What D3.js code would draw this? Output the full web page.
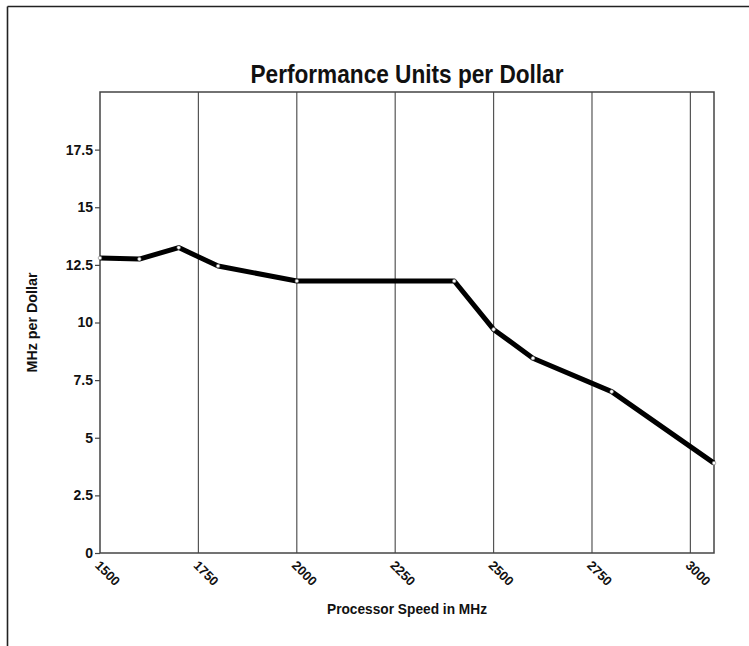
<!DOCTYPE html>
<html>
<head>
<meta charset="utf-8">
<script src="https://cdn.jsdelivr.net/npm/d3@7"></script>
<style>
  body { margin: 0; background: #fff; overflow: hidden; }
  svg { display: block; }
</style>
</head>
<body>
<script>
// chart data
const speeds = [1500, 1600, 1700, 1800, 2000, 2400, 2500, 2600, 2800, 3060];
const mhzPerDollar = [12.8, 12.75, 13.25, 12.45, 11.8, 11.8, 9.7, 8.45, 7.0, 3.9];
const xTicks = [1500, 1750, 2000, 2250, 2500, 2750, 3000];
const yTicks = [0, 2.5, 5, 7.5, 10, 12.5, 15, 17.5];

const canvWidth = 749, canvHeight = 646;
const svg = d3.select("body").append("svg")
  .attr("width", canvWidth)
  .attr("height", canvHeight);

// plot box
const margin = {top: 92, right: 35, bottom: 93, left: 100};
const width = canvWidth - margin.left - margin.right;
const height = canvHeight - margin.top - margin.bottom;
const font = "'Liberation Sans', Arial, sans-serif";

// outer frame (only top and left show)
svg.append('line').attr('x1', 7.5).attr('y1', 6.5).attr('x2', canvWidth).attr('y2', 6.5)
  .style('stroke', '#222').style('stroke-width', 1.6);
svg.append('line').attr('x1', 7.5).attr('y1', 6.5).attr('x2', 7.5).attr('y2', canvHeight)
  .style('stroke', '#222').style('stroke-width', 1.6);

const x = d3.scaleLinear().domain([1500, 3060]).range([0, width]);
const y = d3.scaleLinear().domain([0, 20]).range([height, 0]);

const g = svg.append('g').attr('transform', 'translate(' + margin.left + ',' + margin.top + ')');

// vertical grid lines
g.selectAll('.grid').data(xTicks.slice(1)).enter().append('line')
  .attr('x1', d => x(d)).attr('x2', d => x(d))
  .attr('y1', 0).attr('y2', height)
  .style('stroke', '#555').style('stroke-width', 1.2);

g.append('rect').attr('width', width).attr('height', height)
  .style('fill', 'none').style('stroke', '#444').style('stroke-width', 1.5);

// y axis
const yAxis = g.append('g').call(d3.axisLeft(y).tickValues(yTicks).tickSize(5).tickSizeOuter(0)
  .tickFormat(d => d));
yAxis.select('.domain').remove();
yAxis.selectAll('line').style('stroke', '#444').style('stroke-width', 1.2);
yAxis.selectAll('text').attr('x', -7).style('font-family', font).style('font-size', '14px')
  .style('font-weight', 'bold').style('fill', '#111');

// x axis labels, rotated
const xAxis = g.append('g').attr('transform', 'translate(0,' + height + ')')
  .call(d3.axisBottom(x).tickValues(xTicks).tickSize(0).tickFormat(d => d));
xAxis.select('.domain').remove();
xAxis.selectAll('text')
  .attr('x', 0).attr('y', 0).attr('dy', '0.35em')
  .attr('transform', 'translate(-3,10) rotate(45)')
  .style('text-anchor', 'start')
  .style('font-family', font).style('font-size', '13px').style('font-weight', 'bold').style('fill', '#111');

// the line
const line = d3.line().x((d, i) => x(speeds[i])).y(d => y(d));
g.append('path').datum(mhzPerDollar).attr('d', line)
  .style('fill', 'none').style('stroke', '#000').style('stroke-width', 5)
  .style('stroke-linejoin', 'round');

g.selectAll('.pt').data(mhzPerDollar).enter().append('circle')
  .attr('cx', (d, i) => x(speeds[i])).attr('cy', d => y(d)).attr('r', 1.8)
  .style('fill', '#fff').style('stroke', '#777').style('stroke-width', 0.6);

// titles
svg.append('text').text('Performance Units per Dollar')
  .attr('x', margin.left + width / 2).attr('y', 83)
  .attr('textLength', 313).attr('lengthAdjust', 'spacingAndGlyphs')
  .style('text-anchor', 'middle').style('font-family', font)
  .style('font-size', '26px').style('font-weight', 'bold').style('fill', '#111');

svg.append('text').text('Processor Speed in MHz')
  .attr('x', margin.left + width / 2).attr('y', 614)
  .attr('textLength', 160).attr('lengthAdjust', 'spacingAndGlyphs')
  .style('text-anchor', 'middle').style('font-family', font)
  .style('font-size', '15px').style('font-weight', 'bold').style('fill', '#111');

svg.append('text').text('MHz per Dollar')
  .attr('transform', 'translate(37,' + (margin.top + height / 2) + ') rotate(-90)')
  .attr('textLength', 100).attr('lengthAdjust', 'spacingAndGlyphs')
  .style('text-anchor', 'middle').style('font-family', font)
  .style('font-size', '14px').style('font-weight', 'bold').style('fill', '#111');
</script>
</body>
</html>
